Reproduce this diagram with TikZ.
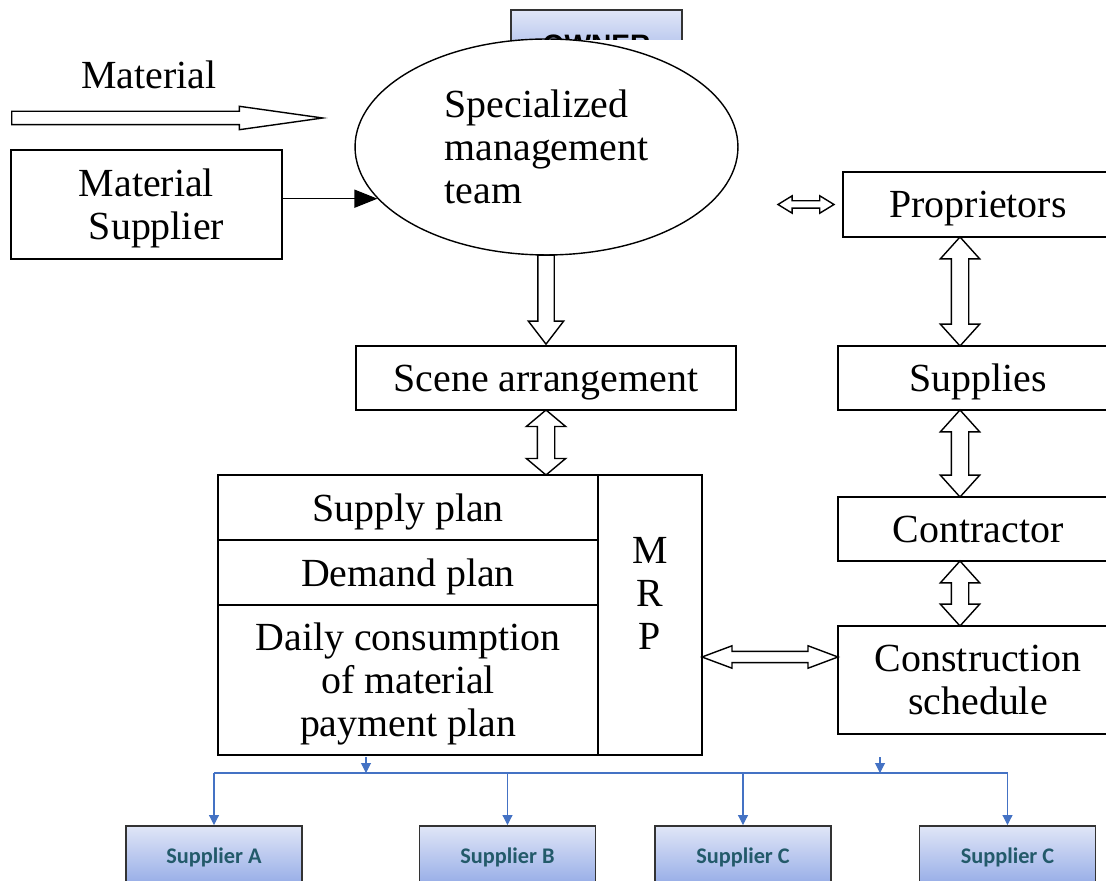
\documentclass[tikz,border=0pt]{standalone}
\usepackage{fontspec}
\setmainfont{Liberation Serif}
\newfontfamily\calibrifont{Carlito}
\newfontfamily\arialfont{Liberation Sans}
\usetikzlibrary{shapes.geometric,shapes.arrows,arrows.meta,positioning}
\definecolor{boxtop}{HTML}{E0E6F7}
\definecolor{boxbottom}{HTML}{92A9E6}
\definecolor{supptext}{HTML}{235A6A}
\definecolor{busblue}{HTML}{4472C4}
\newcommand{\bigtext}{\fontsize{22.7}{24.5}\selectfont}
\tikzset{
  plainbox/.style={draw, line width=0.8pt, inner sep=0pt, font=\bigtext, align=center, text depth=0pt},
  bluebox/.style={draw=black!80, line width=1.1pt, top color=boxtop, bottom color=boxbottom,
    minimum width=3.52cm, minimum height=1.24cm, text=supptext,
    font=\calibrifont\bfseries\fontsize{12.7}{15}\selectfont},
  hollowone/.style={single arrow, draw, line width=0.8pt, fill=white, inner xsep=0pt},
  hollowtwo/.style={double arrow, draw, line width=0.8pt, fill=white, inner xsep=0pt},
  busline/.style={draw=busblue, line width=0.6pt},
  bustip/.style={busline, -{Triangle[width=0.2cm,length=0.2cm]}},
}
\begin{document}
\begin{tikzpicture}[x=0.02cm,y=-0.02cm]
\path[use as bounding box, clip] (0,0) rectangle (1106,881);
% owner box, mostly hidden
\begin{scope}
  \clip (500,0) rectangle (700,40);
  \node[bluebox, minimum width=3.42cm, minimum height=1.4cm, text=black,
    font=\arialfont\bfseries\fontsize{16}{19}\selectfont] (owner) at (596.5,45) {OWNER};
\end{scope}
% material flow
\node[font=\bigtext] (matlabel) at (149,75) {Material};
\node[hollowone, anchor=tail, minimum height=6.22cm, minimum width=0.44cm, inner ysep=0.12cm,
  single arrow head extend=0.1cm, single arrow tip angle=16] (matflow) at (11,118) {};
\node[plainbox, minimum width=5.42cm, minimum height=2.18cm] (msup) at (146.5,204.5) {Material\\\hspace*{0.5em}Supplier};
\node[plainbox, ellipse, minimum width=7.66cm, minimum height=4.32cm, align=left] (mgmt) at (546.5,147) {Specialized\\management\\team};
\draw[line width=0.8pt, -{Triangle[width=0.36cm,length=0.46cm]}] (msup.east |- mgmt.197) -- (mgmt.197);
% right column
\node[plainbox, minimum width=5.4cm, minimum height=1.3cm] (prop) at (978,204.5) {Proprietors};
\node[hollowtwo, minimum height=1.12cm, minimum width=0.32cm, inner ysep=0.06cm, double arrow head extend=0.1cm,
  double arrow tip angle=63, left=0.14cm of prop] (propin) {};
\node[plainbox, minimum width=5.6cm, minimum height=1.28cm] (supplies) at (978,378) {Supplies};
\node[plainbox, minimum width=5.6cm, minimum height=1.28cm] (contr) at (978,529) {Contractor};
\node[plainbox, minimum width=5.6cm, minimum height=2.16cm] (sched) at (978,680) {Construction\\schedule};
\path ([xshift=-0.36cm]prop.south) -- ([xshift=-0.36cm]supplies.north) node[midway, hollowtwo, rotate=90, inner ysep=0.16cm,
  minimum height=2.18cm, minimum width=0.76cm, double arrow head extend=0.22cm, double arrow tip angle=84] (linkA) {};
\path ([xshift=-0.36cm]supplies.south) -- ([xshift=-0.36cm]contr.north) node[midway, hollowtwo, rotate=90, inner ysep=0.16cm,
  minimum height=1.74cm, minimum width=0.76cm, double arrow head extend=0.22cm, double arrow tip angle=84] (linkB) {};
\path ([xshift=-0.36cm]contr.south) -- ([xshift=-0.36cm]sched.north) node[midway, hollowtwo, rotate=90, inner ysep=0.16cm,
  minimum height=1.3cm, minimum width=0.76cm, double arrow head extend=0.22cm, double arrow tip angle=84] (linkC) {};
% scene and plans
\node[plainbox, minimum width=7.6cm, minimum height=1.28cm] (scene) at (546,378) {Scene arrangement};
\node[hollowone, rotate=-90, anchor=tip, minimum height=1.78cm, inner ysep=0.15cm,
  minimum width=0.68cm, single arrow head extend=0.19cm, single arrow tip angle=75] (down) at (scene.north) {};
\node[plainbox, minimum width=7.6cm, minimum height=1.3cm] (supply) at (408,507.5) {Supply plan};
\node[plainbox, minimum width=7.6cm, minimum height=1.3cm] (demand) at (408,572.5) {Demand plan};
\node[plainbox, minimum width=7.6cm, minimum height=3cm] (daily) at (408,680) {Daily consumption\\of material\\payment plan};
\node[plainbox, minimum width=2.08cm, minimum height=5.6cm] (mrp) at (650,615) {M\\R\\P\\\mbox{}};
\path (scene.south) -- (scene.south |- supply.north) node[midway, hollowtwo, rotate=90, minimum height=1.3cm, inner ysep=0.16cm,
  minimum width=0.76cm, double arrow head extend=0.22cm, double arrow tip angle=100] (linkS) {};
\path (mrp.east |- 0,657) -- (sched.west |- 0,657) node[midway, hollowtwo, minimum height=2.72cm, inner ysep=0.1cm,
  minimum width=0.42cm, double arrow head extend=0.11cm, double arrow tip angle=41] (linkM) {};
% suppliers
\node[bluebox] (supA) at (214,857) {Supplier A};
\node[bluebox] (supB) at (507.5,857) {Supplier B};
\node[bluebox] (supC) at (743,857) {Supplier C};
\node[bluebox] (supD) at (1007.5,857) {Supplier C};
\coordinate (busL) at (supA.north |- 0,773);
\coordinate (busR) at (supD.north |- 0,773);
\coordinate (tapA) at (366,757);
\coordinate (tapB) at (880,757);
\draw[busline] (busL) -- (busR);
\draw[bustip] (tapA) -- (tapA |- busL);
\draw[bustip] (tapB) -- (tapB |- busL);
\foreach \s in {supA,supB,supC,supD}
  \draw[bustip] (\s.north |- busL) -- (\s.north);
\end{tikzpicture}
\end{document}
